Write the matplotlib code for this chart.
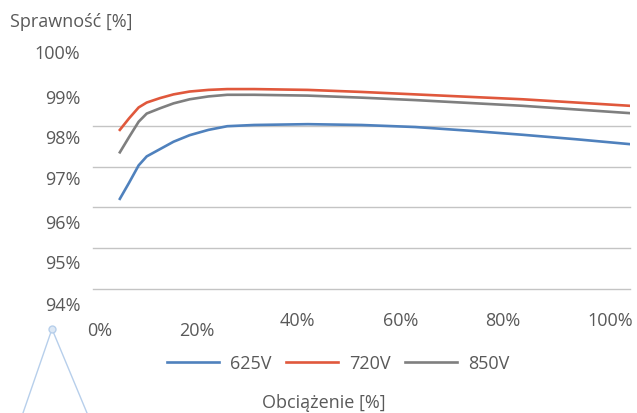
import matplotlib
matplotlib.use("Agg")
import matplotlib.pyplot as plt
import matplotlib.transforms as mtransforms
from matplotlib.lines import Line2D

# load [%] and efficiency [%]
load = [5, 6.7, 8.5, 10, 12.5, 15, 18, 21.5, 25, 30, 40, 50, 60, 70, 80, 90, 100]
eff_625 = [96.21, 96.60, 97.03, 97.25, 97.43, 97.61, 97.77, 97.90, 97.99,
           98.02, 98.04, 98.02, 97.97, 97.88, 97.78, 97.67, 97.55]
eff_720 = [97.90, 98.18, 98.45, 98.57, 98.68, 98.77, 98.84, 98.88, 98.90,
           98.90, 98.88, 98.83, 98.77, 98.71, 98.65, 98.57, 98.49]
eff_850 = [97.35, 97.72, 98.10, 98.30, 98.43, 98.55, 98.65, 98.72, 98.76,
           98.76, 98.74, 98.69, 98.63, 98.56, 98.49, 98.40, 98.31]
series_names = ["625V", "720V", "850V"]

x_ticks = [0, 20, 40, 60, 80, 100]
x_labels = ["0%", "20%", "40%", "60%", "80%", "100%"]
y_ticks = [94, 95, 96, 97, 98, 99, 100]
y_labels = ["94%", "95%", "96%", "97%", "98%", "99%", "100%"]

plt.rcParams['font.family'] = ['Open Sans', 'DejaVu Sans']
txt = "#595959"
colors = ["#4F81BD", "#E0583C", "#7F7F7F"]

W, H = 637, 414
fig = plt.figure(figsize=(W / 100, H / 100), dpi=100)
ax = fig.add_axes([93 / W, 1 - 290 / H, (630 - 93) / W, (290 - 45.2) / H])

for vals, c, name in zip([eff_625, eff_720, eff_850], colors, series_names):
    ax.plot(load, vals, color=c, lw=1.9, label=name)

ax.set_xlim(0, 100)
ax.set_ylim(94, 100)
ax.set_yticks(y_ticks)
ax.set_yticklabels(y_labels)
ax.set_xticks(x_ticks)
ax.set_xticklabels(x_labels)
ax.tick_params(length=0, labelsize=13, colors=txt)
ax.tick_params(axis="y", pad=9)
ax.tick_params(axis="x", pad=16)
for s in ax.spines.values():
    s.set_visible(False)

# gridlines only up to 98%
ax.yaxis.grid(True, color="#c4c4c4", lw=1.0)
for gl, v in zip(ax.yaxis.get_gridlines(), y_ticks):
    gl.set_clip_on(False)
    if v > 98:
        gl.set_visible(False)

# labels in the reference sit a bit off their ticks
y_shift = [-14, -13, -14, -10, -10, -11, -7]
for lab, dy in zip(ax.get_yticklabels(), y_shift):
    lab.set_transform(lab.get_transform() +
                      mtransforms.ScaledTranslation(0, dy / 100, fig.dpi_scale_trans))
x_shift = [(7, -10), (-4, -10), (-10, 0), (-15, 0), (-20, 0), (-20, 0)]
for lab, (dx, dy) in zip(ax.get_xticklabels(), x_shift):
    lab.set_transform(lab.get_transform() +
                      mtransforms.ScaledTranslation(dx / 100, dy / 100, fig.dpi_scale_trans))

fig.legend(loc="center", bbox_to_anchor=(338 / W, 1 - 364 / H), ncol=3,
           frameon=False, fontsize=13, labelcolor=txt, handlelength=2.9,
           handletextpad=0.6, columnspacing=0.8)

fig.text(10 / W, 1 - 22 / H, "Sprawność [%]", fontsize=13, color=txt,
         ha="left", va="center")
fig.text(324 / W, 1 - 403 / H, "Obciążenie [%]", fontsize=13, color=txt,
         ha="center", va="center")

# stray little connector in the bottom-left corner of the reference
tri = Line2D([23 / W, 52 / W, 87 / W], [0, 1 - 330 / H, 0], color="#b7cfeb",
             lw=1.0, transform=fig.transFigure)
fig.add_artist(tri)
fig.add_artist(Line2D([52 / W], [1 - 330 / H], marker="o", ms=5, mfc="#dde8f5",
                      mec="#b7cfeb", mew=1.0, transform=fig.transFigure))

fig.savefig("out.png", dpi=100)
